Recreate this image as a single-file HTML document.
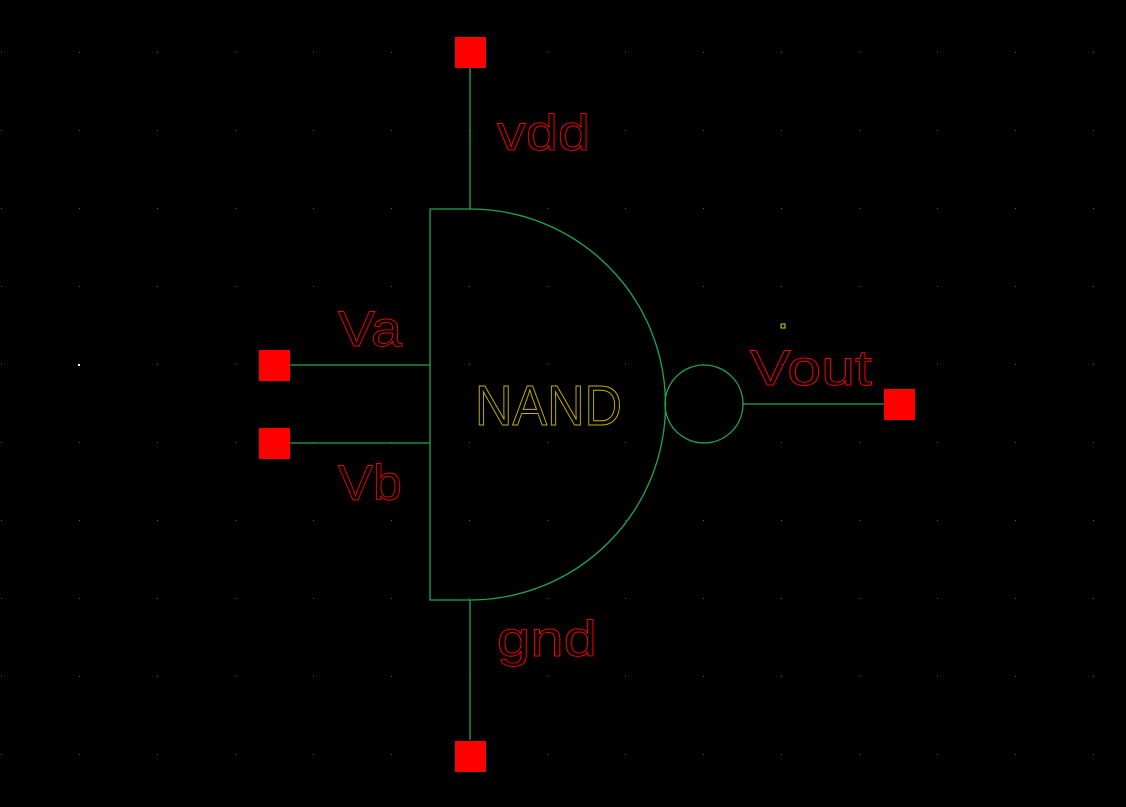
<!DOCTYPE html>
<html><head><meta charset="utf-8"><style>html,body{margin:0;padding:0;background:#000}svg{display:block}</style></head>
<body>
<svg width="1126" height="807" viewBox="0 0 1126 807">
<rect width="1126" height="807" fill="#000"/>
<g id="grid" fill="#556"></g>
<rect x="78" y="364" width="2" height="2" fill="#fff"/>
<g stroke="#1fa653" stroke-width="1.3" fill="none">
<path d="M430,209 L470,209 A195.5,195.5 0 0 1 470,600 L430,600 Z"/>
<circle cx="704" cy="404" r="39"/>
<line x1="470" y1="68" x2="470" y2="209"/>
<line x1="470" y1="600" x2="470" y2="740"/>
<line x1="290" y1="365" x2="430" y2="365"/>
<line x1="290" y1="443" x2="430" y2="443"/>
<line x1="743" y1="404" x2="884" y2="404"/>
</g>
<g fill="#f00">
<rect x="455" y="37" width="31" height="31"/>
<rect x="455" y="741" width="31" height="31"/>
<rect x="259" y="350" width="31" height="31"/>
<rect x="259" y="428" width="31" height="31"/>
<rect x="884" y="389" width="31" height="31"/>
</g>
<rect x="781" y="324" width="4" height="4" fill="none" stroke="#dd0" stroke-width="1"/>
<g font-family="Liberation Sans, sans-serif" fill="none" stroke="#e00" stroke-width="0.9">
<text x="497" y="150" font-size="50" textLength="93" lengthAdjust="spacingAndGlyphs">vdd</text>
<text x="338" y="346" font-size="50" textLength="64" lengthAdjust="spacingAndGlyphs">Va</text>
<text x="338" y="500" font-size="50" textLength="64" lengthAdjust="spacingAndGlyphs">Vb</text>
<text x="497" y="656" font-size="50" textLength="100" lengthAdjust="spacingAndGlyphs">gnd</text>
<text x="750" y="385" font-size="50" textLength="122" lengthAdjust="spacingAndGlyphs">Vout</text>
</g>
<text x="475" y="425" font-family="Liberation Sans, sans-serif" font-size="57" fill="none" stroke="#c8b400" stroke-width="1" textLength="147" lengthAdjust="spacingAndGlyphs">NAND</text>
</svg>
<script>
var g=document.getElementById('grid');
for(var x=1;x<1126;x+=78){for(var y=52;y<807;y+=78){
var r=document.createElementNS('http://www.w3.org/2000/svg','rect');
r.setAttribute('x',x);r.setAttribute('y',y);r.setAttribute('width',1);r.setAttribute('height',1);


g.appendChild(r);}}
</script>
</body></html>
